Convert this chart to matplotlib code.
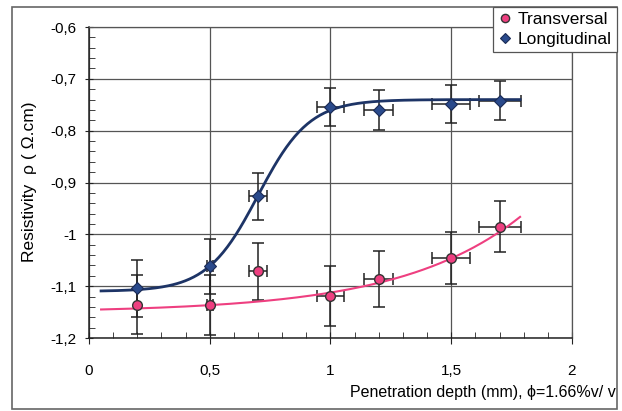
import numpy as np
import matplotlib
matplotlib.use("Agg")
import matplotlib.pyplot as plt
from matplotlib.ticker import MultipleLocator, FuncFormatter
from matplotlib.patches import Rectangle

plt.rcParams['font.family'] = ['Liberation Sans', 'DejaVu Sans']
plt.rcParams['axes.unicode_minus'] = False

# measured points
depth = [0.2, 0.5, 0.7, 1.0, 1.2, 1.5, 1.7]
depth_err = [0.0, 0.013, 0.038, 0.054, 0.06, 0.078, 0.087]
long_rho = [-1.104, -1.062, -0.927, -0.754, -0.760, -0.749, -0.742]
long_err = [0.055, 0.053, 0.046, 0.037, 0.038, 0.037, 0.038]
trans_rho = [-1.136, -1.136, -1.071, -1.119, -1.087, -1.045, -0.985]
trans_err = [0.057, 0.058, 0.055, 0.057, 0.054, 0.050, 0.049]

# fitted trend lines
fit_range = (0.05, 1.785)
long_low, long_high, long_center, long_width = -1.11, -0.74, 0.70, 0.106
trans_offset, trans_scale, trans_rate = -1.1507, 0.00519, 2.0

navy = '#1d3466'
pink = '#ee3f80'

fig = plt.figure(figsize=(6.22, 4.11), dpi=100)
ax = fig.add_axes([0.1431, 0.1776, 0.7765, 0.7567])

xs = np.linspace(*fit_range, 200)
long_fit = long_low + (long_high - long_low) / (1 + np.exp(-(xs - long_center) / long_width))
trans_fit = trans_offset + trans_scale * np.exp(trans_rate * xs)

eb = dict(fmt='none', ecolor='#222222', elinewidth=1.1, capsize=4, capthick=1.1, zorder=3)
ax.errorbar(depth, trans_rho, yerr=trans_err, xerr=depth_err, **eb)
ax.errorbar(depth, long_rho, yerr=long_err, xerr=depth_err, **eb)

ax.plot(xs, trans_fit, color=pink, lw=1.5, zorder=4)
ax.plot(xs, long_fit, color=navy, lw=2.0, zorder=4)

ax.plot(depth, trans_rho, 'o', ms=7, mfc=pink, mec='#333333', mew=1.0,
        ls='none', zorder=5, label='Transversal')
ax.plot(depth, long_rho, 'D', ms=6, mfc='#2a4a8c', mec='#1a2a55', mew=0.8,
        ls='none', zorder=5, label='Longitudinal')

ax.set_xlim(0, 2)
ax.set_ylim(-1.2, -0.6)
ax.xaxis.set_major_locator(MultipleLocator(0.5))
ax.xaxis.set_minor_locator(MultipleLocator(0.1))
ax.yaxis.set_major_locator(MultipleLocator(0.1))
ax.yaxis.set_minor_locator(MultipleLocator(0.02))

comma = FuncFormatter(lambda v, pos: f"{round(v, 2):g}".replace('.', ','))
ax.xaxis.set_major_formatter(comma)
ax.yaxis.set_major_formatter(comma)

ax.grid(True, which='major', color='#555555', lw=0.9)
ax.set_axisbelow(True)
ax.tick_params(axis='x', which='major', direction='inout', length=9, pad=14,
               labelsize=11, color='#222222')
ax.tick_params(axis='x', which='minor', direction='in', length=4, color='#222222')
ax.tick_params(axis='y', which='major', direction='inout', length=6, pad=6,
               labelsize=11, color='#222222')
ax.tick_params(axis='y', which='minor', direction='in', length=4, color='#222222')

for side in ('left', 'bottom'):
    ax.spines[side].set_color('#222222')
    ax.spines[side].set_linewidth(1.1)
for side in ('top', 'right'):
    ax.spines[side].set_color('#555555')
    ax.spines[side].set_linewidth(0.9)

fig.text(0.048, 0.5576, 'Resistivity  \u03c1 ( \u03a9.cm)', rotation=90,
         ha='center', va='center', fontsize=12.5)
fig.text(0.990, 0.044, 'Penetration depth (mm), \u03d5=1.66%v/ v',
         ha='right', va='center', fontsize=11.5)

# outer frame around the whole chart
fig.patches.append(Rectangle((12 / 622, 2 / 411), 605 / 622, 402 / 411,
                             transform=fig.transFigure, fill=False,
                             edgecolor='#666666', lw=1.2))

leg = fig.legend(loc='upper right', bbox_to_anchor=(617 / 622, 1 - 7 / 411),
                 borderaxespad=0, fontsize=12.5, handlelength=0.7, handletextpad=0.4,
                 fancybox=False, framealpha=1, edgecolor='#555555',
                 borderpad=0.3, labelspacing=0.25, markerscale=0.85)
leg.get_frame().set_linewidth(0.9)

fig.savefig('out.png', dpi=100)
